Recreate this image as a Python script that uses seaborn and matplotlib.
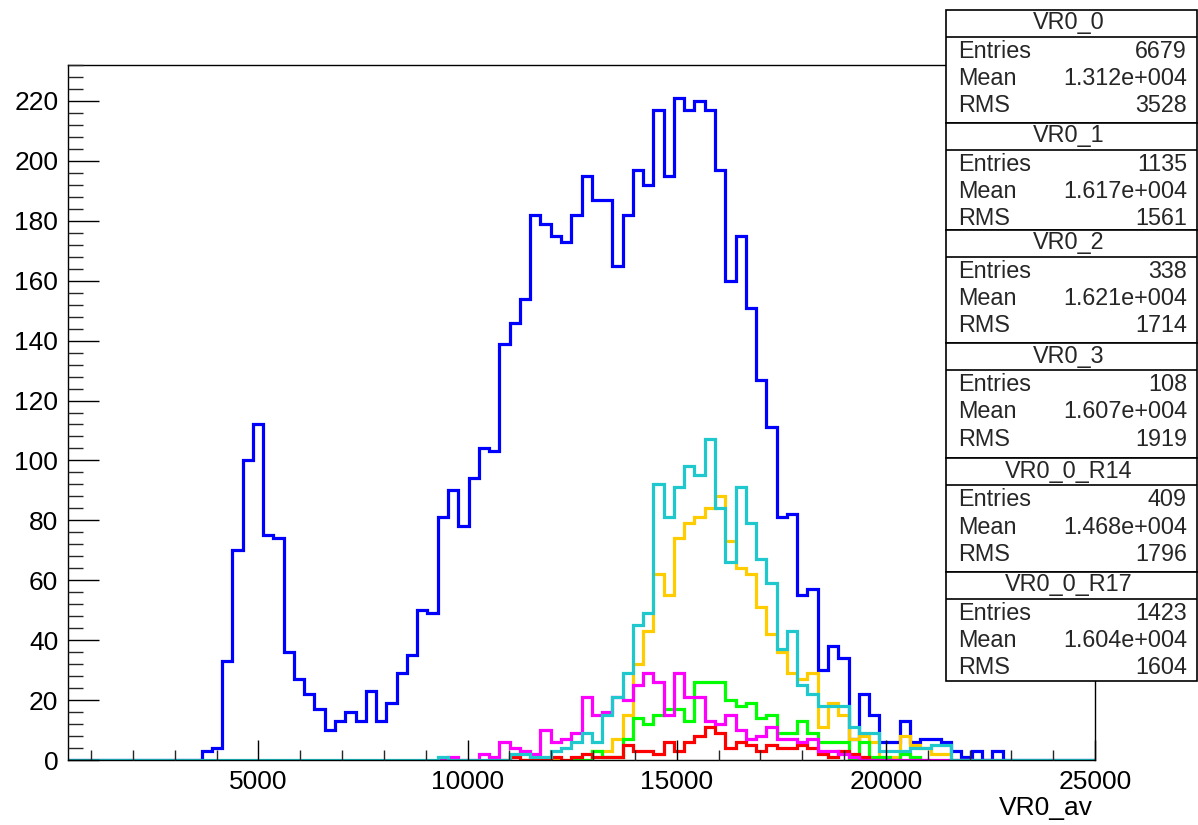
import numpy as np
import pandas as pd
import matplotlib
matplotlib.use("Agg")
import matplotlib.pyplot as plt
from matplotlib.patches import Rectangle
from matplotlib.ticker import MultipleLocator
import seaborn as sns

# ---------------- data ----------------
X_MIN, X_MAX, N_BINS = 450.0, 25000.0, 100
Y_MAX = 232.0

# VR0_0 (blue): counts starting at bin 13, histogram range bins 0..100
vr0_0_first = 13
vr0_0_counts = [3, 4, 33, 70, 100, 112, 75, 74, 36, 27,
                22, 17, 10, 13, 16, 13, 23, 13, 19, 29,
                35, 50, 49, 81, 90, 78, 94, 104, 103, 139,
                146, 154, 182, 179, 175, 173, 182, 195, 187, 187,
                165, 182, 197, 192, 217, 195, 221, 217, 220, 217,
                197, 160, 175, 151, 127, 111, 81, 82, 55, 57,
                30, 38, 34, 7, 22, 15, 6, 6, 13, 6,
                7, 7, 6, 3, 1, 3, 0, 3]
vr0_0_range = (0, 100)

# VR0_1 (orange)
vr0_1_first = 44
vr0_1_counts = [0, 1, 0, 0, 0, 0, 0, 3, 3, 7,
                15, 32, 43, 62, 55, 74, 79, 81, 84, 88,
                73, 64, 62, 51, 42, 36, 29, 27, 29, 11,
                19, 15, 7, 8, 6, 1, 1, 8, 5, 4,
                2, 2, 0, 0]
vr0_1_range = (44, 88)

# VR0_2 (green)
vr0_2_first = 49
vr0_2_counts = [0, 0, 3, 1, 1, 7, 14, 12, 15, 17,
                17, 13, 26, 26, 26, 20, 18, 19, 14, 15,
                9, 9, 13, 9, 6, 6, 6, 0, 6, 1,
                1, 0, 2, 1, 0]
vr0_2_range = (49, 84)

# VR0_3 (red)
vr0_3_first = 42
vr0_3_counts = [0, 1, 0, 0, 0, 1, 0, 1, 2, 1,
                1, 1, 5, 3, 3, 2, 6, 3, 6, 8,
                11, 9, 4, 6, 5, 3, 5, 4, 4, 5,
                4, 2, 1, 3, 2, 1, 0]
vr0_3_range = (42, 79)

# VR0_0_R14 (magenta)
r14_first = 36
r14_counts = [0, 1, 0, 0, 2, 1, 6, 4, 3, 2,
              10, 6, 7, 9, 21, 15, 16, 21, 20, 25,
              29, 26, 15, 29, 21, 21, 13, 12, 15, 10,
              7, 8, 11, 7, 7, 6, 7, 3, 3, 2,
              1]
r14_range = (36, 91)

# VR0_0_R17 (cyan)
r17_first = 36
r17_counts = [1, 0, 0, 0, 0, 0, 0, 2, 2, 1,
              1, 3, 4, 6, 9, 6, 15, 21, 29, 45,
              49, 92, 81, 91, 98, 95, 107, 84, 66, 91,
              79, 67, 59, 37, 43, 25, 22, 18, 18, 18,
              11, 9, 9, 3, 3, 3, 4, 4, 5, 5]
r17_range = (0, 100)

series_names = ["VR0_0", "VR0_1", "VR0_2", "VR0_3", "VR0_0_R14", "VR0_0_R17"]
series_colors = ["#0000ff", "#ffcc00", "#00ff00", "#ff0000", "#ff00ff", "#1ec8cc"]

stat_entries = ["6679", "1135", "338", "108", "409", "1423"]
stat_means = ["1.312e+004", "1.617e+004", "1.621e+004", "1.607e+004", "1.468e+004", "1.604e+004"]
stat_rms = ["3528", "1561", "1714", "1919", "1796", "1604"]

x_ticks = [5000, 10000, 15000, 20000, 25000]
y_ticks = [0, 20, 40, 60, 80, 100, 120, 140, 160, 180, 200, 220]
x_title = "VR0_av"

# ---------------- style ----------------
sns.set_theme(style="white")
plt.rcParams["font.family"] = ["Liberation Sans", "DejaVu Sans"]
plt.rcParams["lines.solid_joinstyle"] = "miter"
plt.rcParams["lines.solid_capstyle"] = "butt"

W, H = 1198, 825
fig = plt.figure(figsize=(W / 100, H / 100), dpi=100)
fig.patch.set_facecolor("white")

L, R, T, B = 68, 1095, 65, 760
ax = fig.add_axes([L / W, 1 - B / H, (R - L) / W, (B - T) / H])
ax.set_facecolor("white")

edges = np.linspace(X_MIN, X_MAX, N_BINS + 1)


def build(first, counts, rng):
    lo, hi = rng
    full = np.zeros(N_BINS)
    full[first:first + len(counts)] = counts
    sub_edges = edges[lo:hi + 1]
    centers = 0.5 * (sub_edges[:-1] + sub_edges[1:])
    return pd.DataFrame({"x": centers, "w": full[lo:hi]}), [float(e) for e in sub_edges]


specs = [
    (vr0_0_first, vr0_0_counts, vr0_0_range),
    (vr0_1_first, vr0_1_counts, vr0_1_range),
    (vr0_2_first, vr0_2_counts, vr0_2_range),
    (vr0_3_first, vr0_3_counts, vr0_3_range),
    (r14_first, r14_counts, r14_range),
    (r17_first, r17_counts, r17_range),
]

for (first, counts, rng), color in zip(specs, series_colors):
    df, sub_edges = build(first, counts, rng)
    sns.histplot(data=df, x="x", weights="w", bins=sub_edges, element="step",
                 fill=False, color=color, linewidth=2.3, ax=ax)

ax.set_xlim(X_MIN, X_MAX)
ax.set_ylim(0, Y_MAX)
ax.set_xlabel("")
ax.set_ylabel("")
ax.set_xticks(x_ticks)
ax.set_xticklabels([str(v) for v in x_ticks])
ax.set_yticks(y_ticks)
ax.set_yticklabels([str(v) for v in y_ticks])
ax.xaxis.set_minor_locator(MultipleLocator(1000))
ax.yaxis.set_minor_locator(MultipleLocator(4))
ax.tick_params(axis="x", which="major", direction="in", length=14.5, width=1.0,
               labelsize=19, pad=7, colors="black", bottom=True, top=False)
ax.tick_params(axis="x", which="minor", direction="in", length=7.5, width=1.0,
               bottom=True, top=False)
ax.tick_params(axis="y", which="major", direction="in", length=22, width=1.0,
               labelsize=19, pad=7, colors="black", left=True, right=False)
ax.tick_params(axis="y", which="minor", direction="in", length=11, width=1.0,
               left=True, right=False)
for s in ax.spines.values():
    s.set_visible(True)
    s.set_color("black")
    s.set_linewidth(1.0)
ax.grid(False)
ax.set_axisbelow(False)

# x-axis title (right aligned at axis end)
fig.text(1093 / W, 1 - 808 / H, x_title, ha="right", va="center", fontsize=19,
         color="black")

# ---------------- stats boxes (pixel-space overlay) ----------------
ov = fig.add_axes([0, 0, 1, 1], facecolor="none")
ov.set_xlim(0, W)
ov.set_ylim(H, 0)
ov.axis("off")

box_tops = [10, 122.7, 230, 343.3, 458.3, 571.5, 681]
bx0, bx1 = 946, 1197
fs = 16.8
for i, name in enumerate(series_names):
    top, bot = box_tops[i], box_tops[i + 1]
    ov.add_patch(Rectangle((bx0, top), bx1 - bx0, bot - top, facecolor="white",
                           edgecolor="black", linewidth=1.2, zorder=3))
    ov.plot([bx0, bx1], [top + 27, top + 27], color="black", linewidth=1.2, zorder=4)
    ov.text((bx0 + bx1) / 2 - 3, top + 13, name, ha="center", va="center",
            fontsize=fs, zorder=5)
    rows = [("Entries", stat_entries[i]), ("Mean", stat_means[i]), ("RMS", stat_rms[i])]
    for k, (lab, val) in enumerate(rows):
        yy = top + 41.5 + 27.2 * k
        ov.text(958, yy, lab, ha="left", va="center", fontsize=fs, zorder=5)
        ov.text(1187, yy, val, ha="right", va="center", fontsize=fs, zorder=5)

fig.savefig("out.png", dpi=100, facecolor="white")
